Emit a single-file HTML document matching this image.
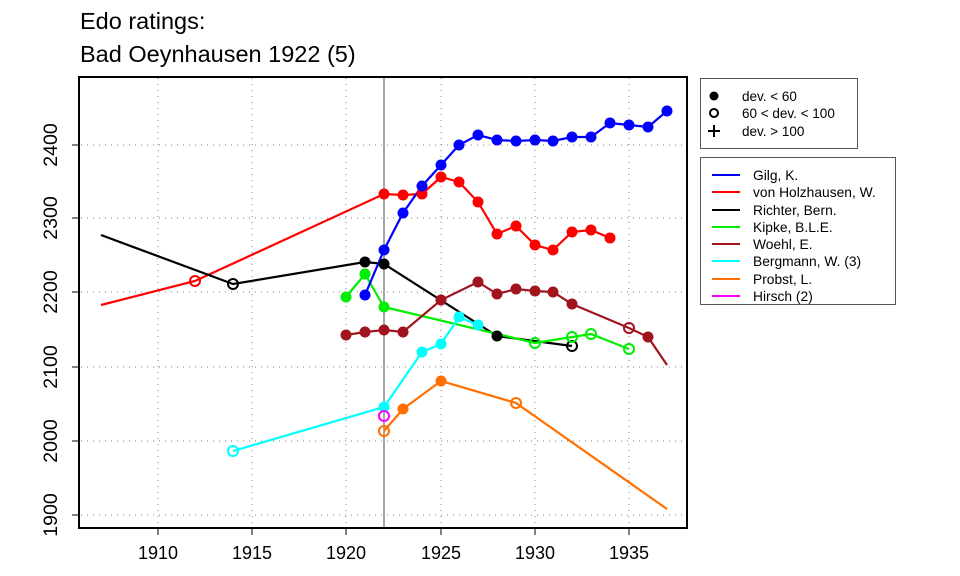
<!DOCTYPE html>
<html><head><style>body{margin:0;background:#fff}svg{display:block}text{font-family:"Liberation Sans",Arial,sans-serif}</style></head><body>
<svg width="960" height="576" xmlns="http://www.w3.org/2000/svg">
<text x="80" y="29" font-size="23.5">Edo ratings:</text>
<text x="80" y="62" font-size="23.5">Bad Oeynhausen 1922 (5)</text>
<g stroke="#999" stroke-dasharray="1,5" stroke-width="1.2">
<line x1="158" y1="78" x2="158" y2="527"/><line x1="252" y1="78" x2="252" y2="527"/><line x1="346" y1="78" x2="346" y2="527"/><line x1="441" y1="78" x2="441" y2="527"/><line x1="535" y1="78" x2="535" y2="527"/><line x1="629" y1="78" x2="629" y2="527"/>
<line x1="81" y1="145" x2="686" y2="145"/><line x1="81" y1="218" x2="686" y2="218"/><line x1="81" y1="292" x2="686" y2="292"/><line x1="81" y1="367" x2="686" y2="367"/><line x1="81" y1="441" x2="686" y2="441"/><line x1="81" y1="515" x2="686" y2="515"/>
</g>
<line x1="384" y1="78" x2="384" y2="527" stroke="#888" stroke-width="1.5"/>
<rect x="79" y="77" width="608" height="451" fill="none" stroke="#000" stroke-width="2"/>
<g stroke="#000" stroke-width="1">
<line x1="158" y1="528" x2="158" y2="535"/><line x1="252" y1="528" x2="252" y2="535"/><line x1="346" y1="528" x2="346" y2="535"/><line x1="441" y1="528" x2="441" y2="535"/><line x1="535" y1="528" x2="535" y2="535"/><line x1="629" y1="528" x2="629" y2="535"/>
<line x1="72" y1="145" x2="79" y2="145"/><line x1="72" y1="218" x2="79" y2="218"/><line x1="72" y1="292" x2="79" y2="292"/><line x1="72" y1="367" x2="79" y2="367"/><line x1="72" y1="441" x2="79" y2="441"/><line x1="72" y1="515" x2="79" y2="515"/>
</g>
<g font-size="18" text-anchor="middle">
<text x="158" y="559">1910</text><text x="252" y="559">1915</text><text x="346" y="559">1920</text><text x="441" y="559">1925</text><text x="535" y="559">1930</text><text x="629" y="559">1935</text>
</g>
<g font-size="19.5" text-anchor="middle">
<text transform="translate(57,145) rotate(-90)">2400</text><text transform="translate(57,218) rotate(-90)">2300</text><text transform="translate(57,292) rotate(-90)">2200</text><text transform="translate(57,367) rotate(-90)">2100</text><text transform="translate(57,441) rotate(-90)">2000</text><text transform="translate(57,515) rotate(-90)">1900</text>
</g>
<g fill="none" stroke-width="2.2">
<polyline stroke="#ff0000" points="101,305 195,281 384,194 403,195 422,194 441,177 459,182 478,202 497,234 516,226 535,245 553,250 572,232 591,230 610,238"/>
<polyline stroke="#000" points="101,235 233,284 365,262 384,264 497,336 572,346"/>
<polyline stroke="#00ee00" points="346,297 365,274 384,307 535,343 572,337 591,334 629,349"/>
<polyline stroke="#a0141e" points="346,335 365,332 384,330 403,332 441,300 478,282 497,294 516,289 535,291 553,292 572,304 629,328 648,337 667,365"/>
<polyline stroke="#00ffff" points="233,451 384,407 422,352 441,344 459,317 478,325"/>
<polyline stroke="#ff7000" points="384,431 403,409 441,381 516,403 667,509"/>
<polyline stroke="#0000ff" points="365,295 384,250 403,213 422,186 441,165 459,145 478,135 497,140 516,141 535,140 553,141 572,137 591,137 610,123 629,125 648,127 667,111"/>
</g>
<g>
<g fill="#ff0000"><circle cx="384" cy="194" r="5.5"/><circle cx="403" cy="195" r="5.5"/><circle cx="422" cy="194" r="5.5"/><circle cx="441" cy="177" r="5.5"/><circle cx="459" cy="182" r="5.5"/><circle cx="478" cy="202" r="5.5"/><circle cx="497" cy="234" r="5.5"/><circle cx="516" cy="226" r="5.5"/><circle cx="535" cy="245" r="5.5"/><circle cx="553" cy="250" r="5.5"/><circle cx="572" cy="232" r="5.5"/><circle cx="591" cy="230" r="5.5"/><circle cx="610" cy="238" r="5.5"/></g>
<g fill="#000"><circle cx="365" cy="262" r="5.5"/><circle cx="384" cy="264" r="5.5"/><circle cx="497" cy="336" r="5.5"/></g>
<g fill="#00ee00"><circle cx="346" cy="297" r="5.5"/><circle cx="365" cy="274" r="5.5"/><circle cx="384" cy="307" r="5.5"/></g>
<g fill="#a0141e"><circle cx="346" cy="335" r="5.5"/><circle cx="365" cy="332" r="5.5"/><circle cx="384" cy="330" r="5.5"/><circle cx="403" cy="332" r="5.5"/><circle cx="441" cy="300" r="5.5"/><circle cx="478" cy="282" r="5.5"/><circle cx="497" cy="294" r="5.5"/><circle cx="516" cy="289" r="5.5"/><circle cx="535" cy="291" r="5.5"/><circle cx="553" cy="292" r="5.5"/><circle cx="572" cy="304" r="5.5"/><circle cx="648" cy="337" r="5.5"/></g>
<g fill="#00ffff"><circle cx="384" cy="407" r="5.5"/><circle cx="422" cy="352" r="5.5"/><circle cx="441" cy="344" r="5.5"/><circle cx="459" cy="317" r="5.5"/><circle cx="478" cy="325" r="5.5"/></g>
<g fill="#ff7000"><circle cx="403" cy="409" r="5.5"/><circle cx="441" cy="381" r="5.5"/></g>
<g fill="#0000ff"><circle cx="365" cy="295" r="5.5"/><circle cx="384" cy="250" r="5.5"/><circle cx="403" cy="213" r="5.5"/><circle cx="422" cy="186" r="5.5"/><circle cx="441" cy="165" r="5.5"/><circle cx="459" cy="145" r="5.5"/><circle cx="478" cy="135" r="5.5"/><circle cx="497" cy="140" r="5.5"/><circle cx="516" cy="141" r="5.5"/><circle cx="535" cy="140" r="5.5"/><circle cx="553" cy="141" r="5.5"/><circle cx="572" cy="137" r="5.5"/><circle cx="591" cy="137" r="5.5"/><circle cx="610" cy="123" r="5.5"/><circle cx="629" cy="125" r="5.5"/><circle cx="648" cy="127" r="5.5"/><circle cx="667" cy="111" r="5.5"/></g>
<g fill="none" stroke-width="2">
<circle cx="195" cy="281" r="5" stroke="#ff0000"/>
<circle cx="233" cy="284" r="5" stroke="#000"/><circle cx="572" cy="346" r="5" stroke="#000"/>
<circle cx="535" cy="343" r="5" stroke="#00ee00"/><circle cx="572" cy="337" r="5" stroke="#00ee00"/><circle cx="591" cy="334" r="5" stroke="#00ee00"/><circle cx="629" cy="349" r="5" stroke="#00ee00"/>
<circle cx="629" cy="328" r="5" stroke="#a0141e"/>
<circle cx="233" cy="451" r="5" stroke="#00ffff"/>
<circle cx="384" cy="416" r="5" stroke="#ff00ff"/>
<circle cx="384" cy="431" r="5" stroke="#ff7000"/><circle cx="516" cy="403" r="5" stroke="#ff7000"/>
</g>
</g>
<rect x="700.5" y="78.5" width="157" height="70" fill="#fff" stroke="#555"/>
<circle cx="714" cy="96" r="4.5" fill="#000"/>
<circle cx="714" cy="113" r="4" fill="none" stroke="#000" stroke-width="2"/>
<path d="M708 131h12M714 125v12" stroke="#000" stroke-width="2"/>
<g font-size="13.5"><text x="742" y="101">dev. &lt; 60</text><text x="742" y="118">60 &lt; dev. &lt; 100</text><text x="742" y="136">dev. &gt; 100</text></g>
<rect x="700.5" y="157.5" width="195" height="147" fill="#fff" stroke="#555"/>
<g stroke-width="2">
<line x1="712" y1="175" x2="740" y2="175" stroke="#0000ff"/>
<line x1="712" y1="192" x2="740" y2="192" stroke="#ff0000"/>
<line x1="712" y1="210" x2="740" y2="210" stroke="#000"/>
<line x1="712" y1="227" x2="740" y2="227" stroke="#00ee00"/>
<line x1="712" y1="244" x2="740" y2="244" stroke="#a0141e"/>
<line x1="712" y1="261" x2="740" y2="261" stroke="#00ffff"/>
<line x1="712" y1="279" x2="740" y2="279" stroke="#ff7000"/>
<line x1="712" y1="296" x2="740" y2="296" stroke="#ff00ff"/>
</g>
<g font-size="13.8">
<text x="753" y="180">Gilg, K.</text><text x="753" y="197">von Holzhausen, W.</text><text x="753" y="215">Richter, Bern.</text><text x="753" y="232">Kipke, B.L.E.</text><text x="753" y="249">Woehl, E.</text><text x="753" y="266">Bergmann, W. (3)</text><text x="753" y="284">Probst, L.</text><text x="753" y="301">Hirsch (2)</text>
</g>
</svg>
</body></html>
